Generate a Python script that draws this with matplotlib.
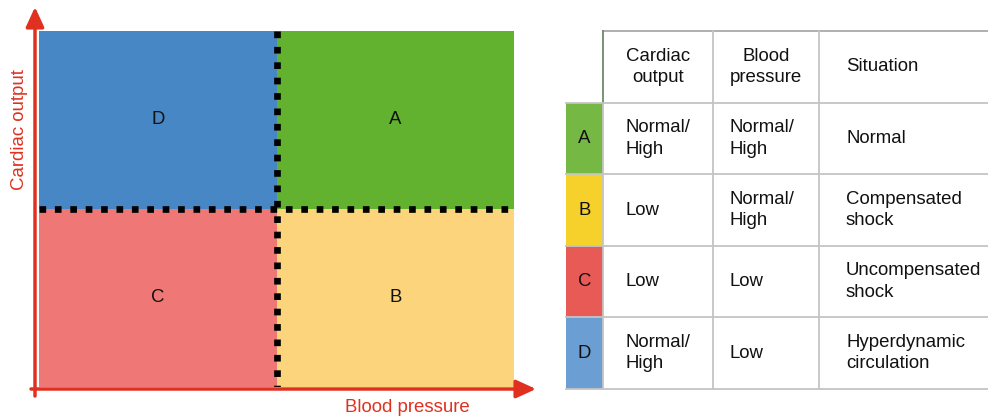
import numpy as np
import matplotlib.pyplot as plt

plt.rcParams['font.family'] = ['Liberation Sans', 'DejaVu Sans']

# quadrant data (x: blood pressure low/high, y: cardiac output low/high)
quad_labels = ["C", "B", "D", "A"]
quad_x = [0, 1, 0, 1]
quad_y = [0, 0, 1, 1]
quad_colors = ["#ef7877", "#fcd47c", "#4887c5", "#62b22f"]

# table data
row_labels = ["A", "B", "C", "D"]
row_colors = ["#75b844", "#f6d12c", "#e85a55", "#6b9fd3"]
headers = ["Cardiac\noutput", "Blood\npressure", "Situation"]
cardiac = ["Normal/\nHigh", "Low", "Low", "Normal/\nHigh"]
pressure = ["Normal/\nHigh", "Normal/\nHigh", "Low", "Low"]
situation = ["Normal", "Compensated\nshock", "Uncompensated\nshock", "Hyperdynamic\ncirculation"]

W, H = 988, 419
red = "#e0301f"
fs = 13.4

fig = plt.figure(figsize=(W / 100, H / 100), dpi=100)


def px_axes(x0, y0, x1, y1):
    return fig.add_axes([x0 / W, 1 - y1 / H, (x1 - x0) / W, (y1 - y0) / H])


# ---- left diagram ----
ax = px_axes(39, 31, 514, 387)
ax.bar(quad_x, 1, width=1, bottom=quad_y, align='edge', color=quad_colors, linewidth=0)
for lab, x, y in zip(quad_labels, quad_x, quad_y):
    ax.text(x + 0.5, y + 0.5, lab, ha='center', va='center', fontsize=13.4, color='#111111')
ax.plot([0, 2], [1, 1], color='black', lw=4.8, dashes=(1, 1.31), solid_capstyle='butt')
ax.plot([1, 1], [2, 0], color='black', lw=4.8, dashes=(1, 1.31), solid_capstyle='butt')
ax.set_xlim(0, 2)
ax.set_ylim(0, 2)
ax.axis('off')

arrow = dict(arrowstyle="-|>,head_length=1.2,head_width=0.55", mutation_scale=10,
             color=red, lw=2.5, shrinkA=0, shrinkB=0)
ax.annotate("", xy=(35, H - 7), xytext=(35, H - 396), xycoords='figure pixels',
            textcoords='figure pixels', arrowprops=arrow, annotation_clip=False)
ax.annotate("", xy=(536, H - 389), xytext=(31, H - 389), xycoords='figure pixels',
            textcoords='figure pixels', arrowprops=arrow, annotation_clip=False)
fig.text(407 / W, 1 - 407 / H, "Blood pressure", color=red, fontsize=fs, ha='center', va='center')
fig.text(19 / W, 1 - 130 / H, "Cardiac output", color=red, fontsize=fs, ha='center', va='center',
         rotation=90)

# ---- table ----
col_widths = [37, 110, 106, 169]
edges = np.concatenate([[0], np.cumsum(col_widths)])
tx = px_axes(566, 31, 988, 389)
tx.set_xlim(0, edges[-1])
tx.set_ylim(5, 0)
tx.axis('off')

n = len(row_labels)
tx.barh(np.arange(1, n + 1), col_widths[0], height=1, left=0, align='edge', color=row_colors, linewidth=0)
for i, lab in enumerate(row_labels):
    tx.text(col_widths[0] / 2, i + 1.5, lab, ha='center', va='center', fontsize=fs, color='#111111')

grid = '#c4c4c4'
tx.plot([edges[1], edges[-1]], [0, 0], color='#a9a9a9', lw=1.3, clip_on=False)
for r in range(1, n + 2):
    tx.plot([0, edges[-1]], [r, r], color=grid, lw=1.3, clip_on=False)
tx.plot([edges[1], edges[1]], [0, 1], color='#6d8a6d', lw=1.3, clip_on=False)
tx.plot([edges[1], edges[1]], [1, n + 1], color=grid, lw=1.3, clip_on=False)
for c in (2, 3):
    tx.plot([edges[c], edges[c]], [0, n + 1], color=grid, lw=1.3, clip_on=False)

txt = dict(fontsize=fs, color='#111111', va='center', linespacing=1.33)
tx.text((edges[1] + edges[2]) / 2, 0.5, headers[0], ha='center', **txt)
tx.text((edges[2] + edges[3]) / 2, 0.5, headers[1], ha='center', **txt)
tx.text(edges[3] + 27, 0.5, headers[2], ha='left', **txt)
for i in range(n):
    tx.text(edges[1] + 22, i + 1.5, cardiac[i], ha='left', **txt)
    tx.text(edges[2] + 16, i + 1.5, pressure[i], ha='left', **txt)
    tx.text(edges[3] + 27, i + 1.5, situation[i], ha='left', **txt)

fig.savefig("out.png", dpi=100)
